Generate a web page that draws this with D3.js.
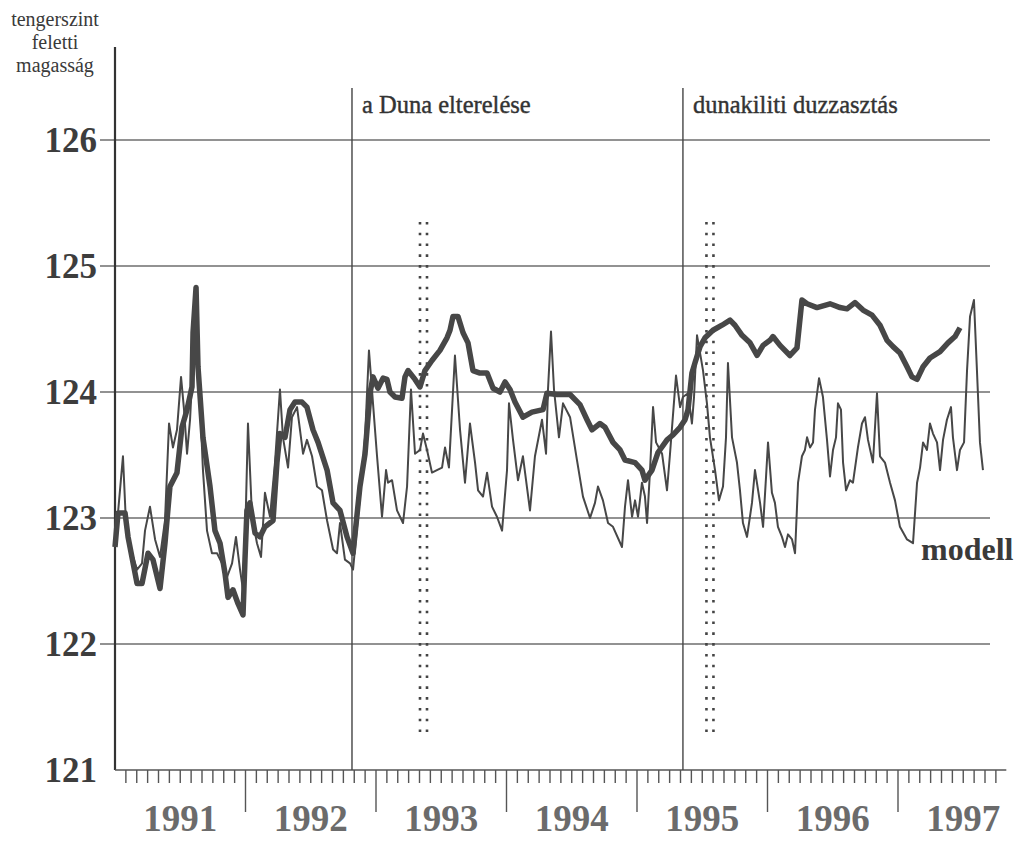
<!DOCTYPE html>
<html lang="hu">

<head>
    <meta charset="UTF-8">
    <script src="https://d3js.org/d3.v7.min.js"></script>
    <style>
        body { margin: 0; background: #fff; }
        text { font-family: "Liberation Serif", "DejaVu Serif", serif; }
    </style>
</head>

<body>

    <script>

        // --- data (decimal year, water level in m above sea level) ---
        const yTicks = [121, 122, 123, 124, 125, 126];
        const yearLabels = ["1991", "1992", "1993", "1994", "1995", "1996", "1997"];

        // thick line
        const thickDates = [1991.000, 1991.023, 1991.077, 1991.100, 1991.169, 1991.207, 1991.253, 1991.291, 1991.345, 1991.383,
            1991.421, 1991.475, 1991.513, 1991.552, 1991.590, 1991.598, 1991.621, 1991.636, 1991.674, 1991.728,
            1991.766, 1991.805, 1991.843, 1991.866, 1991.904, 1991.943, 1991.981, 1991.996, 1992.011, 1992.034,
            1992.073, 1992.111, 1992.149, 1992.211, 1992.241, 1992.264, 1992.303, 1992.341, 1992.379, 1992.433,
            1992.471, 1992.517, 1992.556, 1992.625, 1992.671, 1992.724, 1992.778, 1992.824, 1992.877, 1992.916,
            1992.954, 1992.977, 1993.015, 1993.054, 1993.084, 1993.107, 1993.146, 1993.199, 1993.222, 1993.245,
            1993.299, 1993.337, 1993.375, 1993.429, 1993.490, 1993.544, 1993.567, 1993.590, 1993.628, 1993.667,
            1993.705, 1993.743, 1993.797, 1993.851, 1993.897, 1993.950, 1993.989, 1994.027, 1994.065, 1994.126,
            1994.195, 1994.280, 1994.310, 1994.387, 1994.487, 1994.563, 1994.617, 1994.655, 1994.716, 1994.755,
            1994.816, 1994.870, 1994.908, 1994.985, 1995.038, 1995.061, 1995.115, 1995.161, 1995.230, 1995.276,
            1995.330, 1995.368, 1995.391, 1995.421, 1995.444, 1995.483, 1995.521, 1995.582, 1995.651, 1995.713,
            1995.751, 1995.805, 1995.866, 1995.920, 1995.966, 1996.019, 1996.042, 1996.096, 1996.172, 1996.226,
            1996.264, 1996.303, 1996.379, 1996.479, 1996.556, 1996.609, 1996.670, 1996.732, 1996.801, 1996.862,
            1996.916, 1996.962, 1997.015, 1997.069, 1997.107, 1997.146, 1997.192, 1997.245, 1997.322, 1997.383,
            1997.437, 1997.475];
        const thickLevels = [122.77, 123.04, 123.04, 122.85, 122.48, 122.48, 122.72, 122.67, 122.44, 122.80,
            123.25, 123.36, 123.72, 123.86, 124.04, 124.47, 124.83, 124.20, 123.64, 123.25,
            122.90, 122.80, 122.56, 122.37, 122.43, 122.32, 122.23, 122.67, 123.06, 123.12,
            122.88, 122.85, 122.93, 122.98, 123.44, 123.67, 123.64, 123.86, 123.92, 123.92,
            123.88, 123.70, 123.60, 123.38, 123.12, 123.06, 122.85, 122.72, 123.25, 123.51,
            123.99, 124.12, 124.03, 124.11, 124.10, 124.00, 123.96, 123.95, 124.12, 124.17,
            124.10, 124.04, 124.17, 124.25, 124.33, 124.43, 124.49, 124.60, 124.60, 124.47,
            124.39, 124.17, 124.15, 124.15, 124.03, 124.00, 124.08, 124.02, 123.92, 123.80,
            123.84, 123.86, 123.99, 123.98, 123.98, 123.90, 123.78, 123.70, 123.75, 123.72,
            123.60, 123.54, 123.46, 123.44, 123.38, 123.30, 123.38, 123.52, 123.62, 123.66,
            123.72, 123.78, 123.86, 124.15, 124.23, 124.36, 124.43, 124.49, 124.53, 124.57,
            124.53, 124.45, 124.39, 124.29, 124.37, 124.41, 124.44, 124.37, 124.29, 124.35,
            124.73, 124.70, 124.67, 124.70, 124.67, 124.66, 124.71, 124.65, 124.61, 124.53,
            124.41, 124.36, 124.31, 124.20, 124.12, 124.10, 124.20, 124.27, 124.32, 124.39,
            124.44, 124.51];

        // thin line
        const thinDates = [1991.000, 1991.023, 1991.061, 1991.084, 1991.115, 1991.169, 1991.207, 1991.230, 1991.268, 1991.307,
            1991.345, 1991.383, 1991.414, 1991.444, 1991.475, 1991.506, 1991.529, 1991.552, 1991.575, 1991.598,
            1991.621, 1991.644, 1991.674, 1991.705, 1991.743, 1991.782, 1991.820, 1991.858, 1991.897, 1991.927,
            1991.958, 1991.981, 1992.004, 1992.019, 1992.050, 1992.088, 1992.119, 1992.149, 1992.188, 1992.226,
            1992.264, 1992.287, 1992.326, 1992.356, 1992.395, 1992.441, 1992.471, 1992.510, 1992.548, 1992.586,
            1992.625, 1992.671, 1992.701, 1992.724, 1992.762, 1992.801, 1992.824, 1992.877, 1992.916, 1992.946,
            1992.977, 1993.008, 1993.046, 1993.077, 1993.092, 1993.123, 1993.161, 1993.207, 1993.238, 1993.268,
            1993.299, 1993.337, 1993.360, 1993.391, 1993.429, 1993.467, 1993.506, 1993.529, 1993.559, 1993.605,
            1993.644, 1993.682, 1993.720, 1993.759, 1993.782, 1993.820, 1993.851, 1993.889, 1993.927, 1993.966,
            1994.004, 1994.019, 1994.050, 1994.088, 1994.126, 1994.180, 1994.218, 1994.272, 1994.303, 1994.318,
            1994.341, 1994.364, 1994.402, 1994.433, 1994.487, 1994.540, 1994.586, 1994.640, 1994.678, 1994.701,
            1994.739, 1994.778, 1994.816, 1994.885, 1994.908, 1994.931, 1994.962, 1994.985, 1995.008, 1995.038,
            1995.061, 1995.077, 1995.100, 1995.123, 1995.146, 1995.192, 1995.230, 1995.253, 1995.299, 1995.330,
            1995.352, 1995.391, 1995.421, 1995.437, 1995.460, 1995.483, 1995.506, 1995.536, 1995.559, 1995.598,
            1995.628, 1995.659, 1995.682, 1995.697, 1995.728, 1995.766, 1995.789, 1995.812, 1995.843, 1995.881,
            1995.904, 1995.943, 1995.966, 1995.989, 1996.004, 1996.034, 1996.057, 1996.080, 1996.111, 1996.134,
            1996.157, 1996.188, 1996.211, 1996.234, 1996.264, 1996.287, 1996.303, 1996.326, 1996.349, 1996.364,
            1996.395, 1996.425, 1996.456, 1996.479, 1996.502, 1996.525, 1996.540, 1996.563, 1996.579, 1996.602,
            1996.632, 1996.655, 1996.693, 1996.724, 1996.747, 1996.770, 1996.808, 1996.839, 1996.862, 1996.900,
            1996.939, 1996.977, 1997.015, 1997.069, 1997.115, 1997.146, 1997.169, 1997.192, 1997.222, 1997.245,
            1997.268, 1997.299, 1997.322, 1997.345, 1997.375, 1997.406, 1997.421, 1997.452, 1997.475, 1997.506,
            1997.529, 1997.552, 1997.582, 1997.605, 1997.628, 1997.651];
        const thinLevels = [122.85, 123.04, 123.49, 122.96, 122.77, 122.59, 122.64, 122.90, 123.09, 122.83,
            122.69, 122.98, 123.75, 123.56, 123.70, 124.12, 123.86, 123.51, 123.78, 124.25,
            124.75, 124.10, 123.38, 122.90, 122.72, 122.72, 122.64, 122.53, 122.64, 122.85,
            122.59, 122.43, 123.12, 123.75, 123.01, 122.80, 122.69, 123.20, 123.01, 123.44,
            124.02, 123.64, 123.40, 123.80, 123.88, 123.51, 123.62, 123.49, 123.25, 123.22,
            122.98, 122.75, 122.72, 122.96, 122.67, 122.64, 122.59, 123.17, 123.64, 124.33,
            123.91, 123.49, 123.01, 123.38, 123.28, 123.30, 123.06, 122.96, 123.25, 124.02,
            123.51, 123.54, 123.67, 123.54, 123.36, 123.38, 123.40, 123.56, 123.40, 124.29,
            123.70, 123.28, 123.75, 123.44, 123.22, 123.17, 123.36, 123.09, 123.01, 122.90,
            123.38, 123.91, 123.62, 123.30, 123.49, 123.06, 123.49, 123.78, 123.51, 124.02,
            124.48, 124.02, 123.64, 123.91, 123.80, 123.46, 123.17, 123.00, 123.12, 123.25,
            123.14, 122.96, 122.93, 122.77, 123.09, 123.30, 123.01, 123.14, 123.01, 123.28,
            123.17, 122.96, 123.38, 123.88, 123.60, 123.51, 123.22, 123.51, 124.13, 123.88,
            123.96, 123.99, 123.75, 123.96, 124.45, 124.31, 124.17, 123.91, 123.64, 123.38,
            123.14, 123.25, 123.64, 124.23, 123.64, 123.44, 123.22, 122.96, 122.85, 123.12,
            123.38, 123.12, 122.93, 123.33, 123.60, 123.20, 123.12, 122.93, 122.85, 122.77,
            122.87, 122.83, 122.72, 123.28, 123.49, 123.54, 123.64, 123.56, 123.60, 123.86,
            124.11, 123.96, 123.62, 123.33, 123.54, 123.64, 123.91, 123.86, 123.44, 123.22,
            123.30, 123.28, 123.56, 123.75, 123.80, 123.62, 123.44, 123.99, 123.49, 123.44,
            123.28, 123.14, 122.93, 122.83, 122.80, 123.28, 123.40, 123.60, 123.54, 123.75,
            123.67, 123.60, 123.38, 123.62, 123.78, 123.88, 123.64, 123.38, 123.54, 123.60,
            124.17, 124.60, 124.73, 124.17, 123.60, 123.38];

        // events: solid lines with captions, dotted markers
        const eventDates = [1992.816, 1995.352];
        const eventLabels = ["a Duna elterelése", "dunakiliti duzzasztás"];
        const dottedDates = [1993.364, 1995.559];
        const dottedRange = [121.3, 125.35];

        const axisLabel = ["tengerszint", "feletti", "magasság"];
        const axisEnd = 1997.83;

        const W = 1023, H = 841;
        const ink = "#474747";

        const svg = d3.select("body").append("svg")
            .attr("width", W)
            .attr("height", H);

        const x = d3.scaleLinear().domain([1991, 1998]).range([115, 115 + 7 * 130.5]);
        const y = d3.scaleLinear().domain([121, 126]).range([770, 140]);

        // horizontal grid
        svg.append("g")
            .selectAll("line")
            .data(yTicks.filter(d => d > 121))
            .join("line")
            .attr("x1", 100).attr("x2", 990)
            .attr("y1", d => y(d)).attr("y2", d => y(d))
            .attr("stroke", "#6e6e6e")
            .attr("stroke-width", 1.4);

        // y labels
        svg.append("g")
            .selectAll("text")
            .data(yTicks)
            .join("text")
            .attr("x", 97)
            .attr("y", d => y(d))
            .attr("dy", "0.33em")
            .attr("text-anchor", "end")
            .attr("font-size", 35)
            .attr("font-weight", "bold")
            .attr("fill", "#3d3d3d")
            .text(d => d);

        // axis title
        svg.append("g")
            .selectAll("text")
            .data(axisLabel)
            .join("text")
            .attr("x", 55)
            .attr("y", (d, i) => 26 + i * 23)
            .attr("text-anchor", "middle")
            .attr("font-size", 20)
            .attr("fill", "#3a3a3a")
            .text(d => d);

        // y axis line
        svg.append("line")
            .attr("x1", x(1991)).attr("x2", x(1991))
            .attr("y1", 47).attr("y2", y(121))
            .attr("stroke", "#333")
            .attr("stroke-width", 2.2);

        // x axis line
        svg.append("line")
            .attr("x1", x(1991)).attr("x2", x(axisEnd))
            .attr("y1", y(121)).attr("y2", y(121))
            .attr("stroke", "#555")
            .attr("stroke-width", 1.6);

        // month ticks and year ticks
        const months = d3.range(1, Math.floor((axisEnd - 1991) * 12) + 1)
            .map(i => 1991 + i / 12);
        svg.append("g")
            .selectAll("line")
            .data(months)
            .join("line")
            .attr("x1", d => x(d)).attr("x2", d => x(d))
            .attr("y1", y(121))
            .attr("y2", d => (Math.abs(d - Math.round(d)) < 1e-6 ? 812 : 783))
            .attr("stroke", "#555")
            .attr("stroke-width", 1.4);

        svg.append("g")
            .selectAll("text")
            .data(yearLabels)
            .join("text")
            .attr("x", d => x(+d + 0.5))
            .attr("y", 831)
            .attr("text-anchor", "middle")
            .attr("font-size", 37)
            .attr("font-weight", "bold")
            .attr("fill", "#6b6b6b")
            .text(d => d);

        // event lines
        svg.append("g")
            .selectAll("line")
            .data(eventDates)
            .join("line")
            .attr("x1", d => x(d)).attr("x2", d => x(d))
            .attr("y1", 88).attr("y2", y(121))
            .attr("stroke", "#444")
            .attr("stroke-width", 1.4);

        svg.append("g")
            .selectAll("text")
            .data(eventLabels)
            .join("text")
            .attr("x", (d, i) => x(eventDates[i]) + 10)
            .attr("y", 113)
            .attr("font-size", 24.5)
            .attr("fill", "#333")
            .attr("stroke", "#333")
            .attr("stroke-width", 0.4)
            .text(d => d);

        // dotted markers (double column of dots)
        dottedDates.forEach(d => {
            [-3.5, 3.5].forEach(off => {
                svg.append("line")
                    .attr("x1", x(d) + off).attr("x2", x(d) + off)
                    .attr("y1", y(dottedRange[1])).attr("y2", y(dottedRange[0]))
                    .attr("stroke", "#444")
                    .attr("stroke-width", 2.6)
                    .attr("stroke-dasharray", "2.6,8.2");
            });
        });

        // series
        const thinData = thinDates.map((d, i) => [d, thinLevels[i]]);
        const thickData = thickDates.map((d, i) => [d, thickLevels[i]]);
        const line = d3.line().x(d => x(d[0])).y(d => y(d[1]));

        svg.append("path")
            .datum(thinData)
            .attr("fill", "none")
            .attr("stroke", ink)
            .attr("stroke-width", 2)
            .attr("stroke-linejoin", "round")
            .attr("d", line);

        svg.append("path")
            .datum(thickData)
            .attr("fill", "none")
            .attr("stroke", ink)
            .attr("stroke-width", 5.5)
            .attr("stroke-linejoin", "round")
            .attr("d", line);

        svg.append("text")
            .attr("x", 921)
            .attr("y", 560)
            .attr("font-size", 32)
            .attr("font-weight", "bold")
            .attr("fill", "#3a3a3a")
            .text("modell");

    </script>
</body>

</html>
